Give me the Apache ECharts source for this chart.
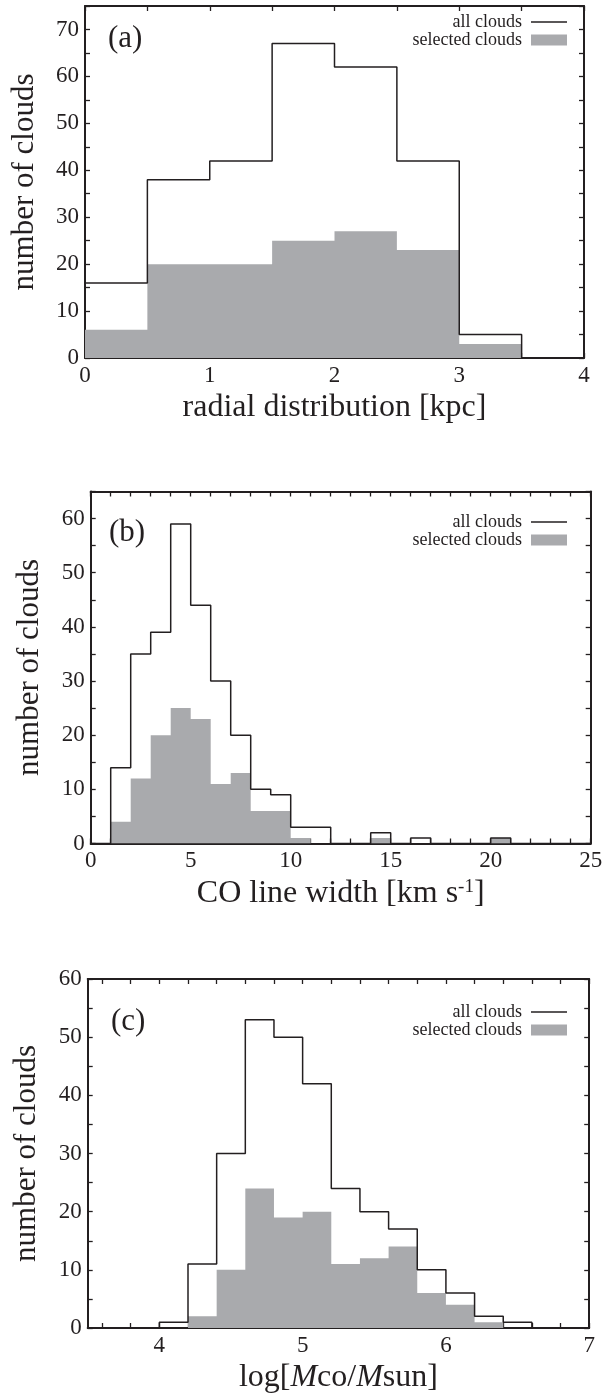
<!DOCTYPE html>
<html>
<head>
<meta charset="utf-8">
<script src="https://cdn.jsdelivr.net/npm/echarts@6/dist/echarts.min.js"></script>
<style>
html,body{margin:0;padding:0;background:#fff;}
#chart{width:608px;height:1395px;}
</style>
</head>
<body>
<div id="chart"></div>
<script>
// ---- data (bin edges and counts) ----
const edgesA = [0, 0.5, 1, 1.5, 2, 2.5, 3, 3.5, 4];
const allA   = [16, 38, 42, 67, 62, 42, 5, 0];
const selA   = [6, 20, 20, 25, 27, 23, 3, 0];

const edgesB = [0,1,2,3,4,5,6,7,8,9,10,11,12,13,14,15,16,17,18,19,20,21,22,23,24,25];
const allB   = [0,14,35,39,59,44,30,20,10,9,3,3,0,0,2,0,1,0,0,0,1,0,0,0,0];
const selB   = [0,4,12,20,25,23,11,13,6,6,1,0,0,0,1,0,0,0,0,0,1,0,0,0,0];

const edgesC = [3.6,3.8,4.0,4.2,4.4,4.6,4.8,5.0,5.2,5.4,5.6,5.8,6.0,6.2,6.4,6.6,6.8,7.0];
const allC   = [0,0,1,11,30,53,50,42,24,20,17,10,6,2,1,0,0];
const selC   = [0,0,0,2,10,24,19,20,11,12,14,6,4,1,0,0,0];

// ---- tick positions / labels ----
const xTicksA  = [0,0.5,1,1.5,2,2.5,3,3.5,4];
const xLabelsA = [0,1,2,3,4];
const yTicksA  = [0,5,10,15,20,25,30,35,40,45,50,55,60,65,70,75];
const yLabelsA = [0,10,20,30,40,50,60,70];

const xTicksB  = [0,1,2,3,4,5,6,7,8,9,10,11,12,13,14,15,16,17,18,19,20,21,22,23,24,25];
const xLabelsB = [0,5,10,15,20,25];
const yTicksB  = [0,5,10,15,20,25,30,35,40,45,50,55,60,65];
const yLabelsB = [0,10,20,30,40,50,60];

const xTicksC  = [3.6,3.8,4.0,4.2,4.4,4.6,4.8,5.0,5.2,5.4,5.6,5.8,6.0,6.2,6.4,6.6,6.8,7.0];
const xLabelsC = [4,5,6,7];
const yTicksC  = [0,5,10,15,20,25,30,35,40,45,50,55,60];
const yLabelsC = [0,10,20,30,40,50,60];

const SERIF = 'Liberation Serif';
const INK = '#231f20';
const GRAY = '#a9aaad';

function steps(edges, vals) {
  const pts = vals.map((v, i) => [edges[i], v]);
  pts.push([edges[vals.length], vals[vals.length - 1]]);
  return pts;
}

const panels = [
  { grid: {left: 85, top: 6, width: 499, height: 352},
    x: {min: 0, max: 4, ticks: xTicksA, labels: xLabelsA,
        name: 'radial distribution [kpc]'},
    y: {min: 0, max: 75, ticks: yTicksA, labels: yLabelsA},
    all: steps(edgesA, allA), sel: steps(edgesA, selA),
    tag: '(a)', tagPos: {left: 108, top: 23}, legendTop: 13 },
  { grid: {left: 90.7, top: 491.5, width: 500, height: 352},
    x: {min: 0, max: 25, ticks: xTicksB, labels: xLabelsB,
        name: '{n|CO line width [km s}{s|-1}{n|]}'},
    y: {min: 0, max: 65, ticks: yTicksB, labels: yLabelsB},
    all: steps(edgesB, allB), sel: steps(edgesB, selB),
    tag: '(b)', tagPos: {left: 109, top: 517}, legendTop: 513 },
  { grid: {left: 87.7, top: 979, width: 501.5, height: 352},
    x: {min: 3.5, max: 7, ticks: xTicksC, labels: xLabelsC,
        name: '{n|log[}{i|M}{n|co/}{i|M}{n|sun]}'},
    y: {min: 0, max: 60, ticks: yTicksC, labels: yLabelsC},
    all: steps(edgesC, allC), sel: steps(edgesC, selC),
    tag: '(c)', tagPos: {left: 111, top: 1006}, legendTop: 1003 }
];

const richName = {
  n: {fontFamily: SERIF, fontSize: 32, color: INK},
  i: {fontFamily: SERIF, fontSize: 32, color: INK, fontStyle: 'italic'},
  s: {fontFamily: SERIF, fontSize: 19, color: INK, verticalAlign: 'top', padding: [0,0,14,0]}
};

const option = {
  animation: false,
  backgroundColor: '#ffffff',
  grid: [], xAxis: [], yAxis: [], series: [], title: [], legend: []
};

panels.forEach((p, k) => {
  option.grid.push(Object.assign({containLabel: false}, p.grid));
  const lineStyle = {color: INK, width: 2};
  const tickStyle = {color: INK, width: 1.3};
  option.xAxis.push({
    type: 'value', gridIndex: k, position: 'bottom', min: p.x.min, max: p.x.max,
    axisLine: {show: true, onZero: false, lineStyle},
    axisTick: {show: true, inside: true, length: 5, lineStyle: tickStyle, customValues: p.x.ticks},
    axisLabel: {show: true, margin: 6, fontFamily: SERIF, fontSize: 23, color: INK,
                customValues: p.x.labels, showMinLabel: true, showMaxLabel: true},
    splitLine: {show: false},
    name: p.x.name, nameLocation: 'middle', nameGap: 34,
    nameTextStyle: {fontFamily: SERIF, fontSize: 32, color: INK, rich: richName}
  });
  option.xAxis.push({
    type: 'value', gridIndex: k, position: 'top', min: p.x.min, max: p.x.max,
    axisLine: {show: true, onZero: false, lineStyle},
    axisTick: {show: true, inside: true, length: 5, lineStyle: tickStyle, customValues: p.x.ticks},
    axisLabel: {show: false}, splitLine: {show: false}
  });
  option.yAxis.push({
    type: 'value', gridIndex: k, position: 'left', min: p.y.min, max: p.y.max,
    axisLine: {show: true, onZero: false, lineStyle},
    axisTick: {show: true, inside: true, length: 5, lineStyle: tickStyle, customValues: p.y.ticks},
    axisLabel: {show: true, margin: 6, fontFamily: SERIF, fontSize: 23, color: INK,
                customValues: p.y.labels, showMinLabel: true, showMaxLabel: true},
    splitLine: {show: false},
    name: 'number of clouds', nameLocation: 'middle', nameGap: 45,
    nameTextStyle: {fontFamily: SERIF, fontSize: 31, color: INK}
  });
  option.yAxis.push({
    type: 'value', gridIndex: k, position: 'right', min: p.y.min, max: p.y.max,
    axisLine: {show: true, onZero: false, lineStyle},
    axisTick: {show: true, inside: true, length: 5, lineStyle: tickStyle, customValues: p.y.ticks},
    axisLabel: {show: false}, splitLine: {show: false}
  });

  option.series.push({
    name: 'selected clouds', type: 'line', step: 'end',
    xAxisIndex: 2 * k, yAxisIndex: 2 * k,
    data: p.sel, symbol: 'none', silent: true,
    lineStyle: {width: 0, opacity: 0},
    itemStyle: {color: GRAY},
    areaStyle: {color: GRAY, opacity: 1, origin: 'start'},
    z: 2
  });
  option.series.push({
    name: 'all clouds', type: 'line', step: 'end',
    xAxisIndex: 2 * k, yAxisIndex: 2 * k,
    data: p.all, symbol: 'none', silent: true,
    lineStyle: {color: INK, width: 1.5},
    itemStyle: {color: INK},
    z: 3
  });

  option.title.push({
    text: p.tag, left: p.tagPos.left, top: p.tagPos.top, padding: 0,
    textStyle: {fontFamily: SERIF, fontSize: 31, fontWeight: 'normal', color: INK}
  });

  option.legend.push({
    orient: 'vertical', right: 41, top: p.legendTop, align: 'right',
    itemWidth: 36, itemHeight: 11, itemGap: 0, padding: 0,
    selectedMode: false,
    textStyle: {fontFamily: SERIF, fontSize: 18, color: INK, padding: [0, 4, 0, 0]},
    data: [
      {name: 'all clouds', icon: 'path://M0,0 L36,0 L36,1.6 L0,1.6 Z', itemStyle: {color: INK}},
      {name: 'selected clouds', icon: 'rect', itemStyle: {color: GRAY}}
    ]
  });
});

const chart = echarts.init(document.getElementById('chart'), null, {renderer: 'canvas'});
chart.setOption(option);
</script>
</body>
</html>
